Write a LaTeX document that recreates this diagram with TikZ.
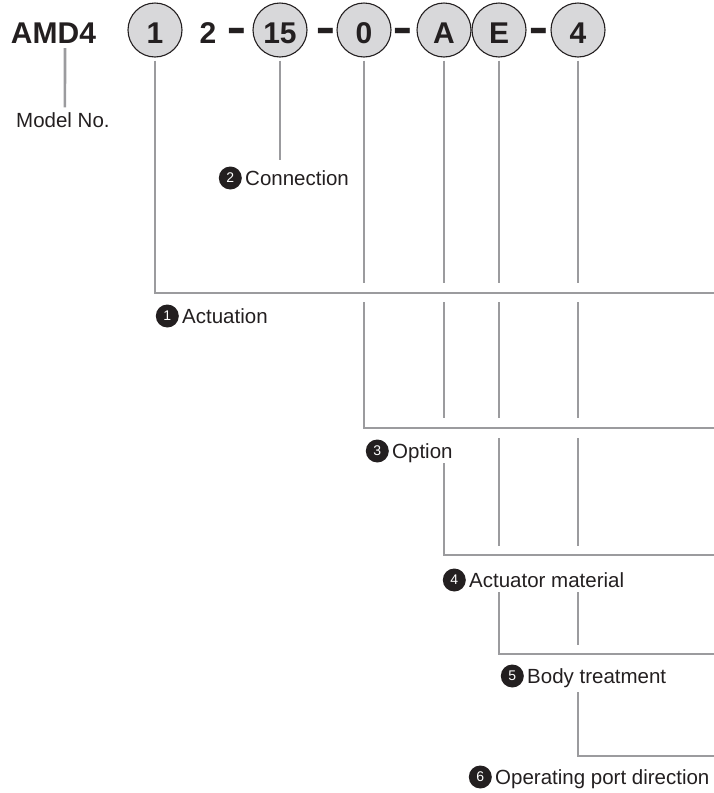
\documentclass[tikz,border=0pt]{standalone}
\usepackage{fontspec}
\setmainfont{Liberation Sans}
\usetikzlibrary{positioning}

\definecolor{leadgray}{RGB}{155,155,158}
\definecolor{keyfill}{RGB}{216,216,218}
\definecolor{inkblack}{RGB}{35,31,32}

% thick bar for the code separators
\newcommand{\codedash}{\raisebox{-2.8pt}{\scalebox{1.0}[1.8]{–}}}

\begin{document}
\begin{tikzpicture}[
    x=1pt, y=-1pt,
    code/.style={
        anchor=base,
        inner sep=0pt,
        text=inkblack,
        font=\fontsize{30}{30}\selectfont\bfseries
    },
    key/.style={
        code,
        circle,
        draw=inkblack,
        line width=1.1pt,
        fill=keyfill,
        minimum size=54pt,
        text height=26pt,
        text depth=0pt
    },
    lead/.style={draw=leadgray, line width=2.6pt},
    lbl/.style={
        anchor=west,
        inner sep=0pt,
        text=inkblack,
        text height=14.7pt,
        text depth=0pt,
        font=\fontsize{20.5}{24}\selectfont
    },
    badge/.style={
        circle,
        fill=inkblack,
        text=white,
        minimum size=23pt,
        inner sep=0pt,
        font=\fontsize{14}{14}\selectfont
    }
]
\useasboundingbox (0,0) rectangle (714,793);

% Model code
\node[code] (amd) at (53.5,43) {AMD4};
\node[key] (c1) at (155,43) {1};
\node[code] (two) at (208,43) {2};
\node[code] (d1) at (237,43) {\codedash};
\node[key] (c15) at (280,43) {15};
\node[code] (d2) at (326,43) {\codedash};
\node[key] (c0) at (364,43) {0};
\node[code] (d3) at (403,43) {\codedash};
\node[key] (cA) at (444,43) {A};
\node[key] (cE) at (499,43) {E};
\node[code] (d4) at (539,43) {\codedash};
\node[key] (c4) at (578,43) {4};

% Labels
\node[lbl] (model) at (16,120) {Model No.};
\node[lbl] (conn) at (245,178) {Connection};
\node[badge, left=3pt of conn] (conn-n) {2};
\node[lbl] (act) at (182,316) {Actuation};
\node[badge, left=3pt of act] (act-n) {1};
\node[lbl] (opt) at (392,451) {Option};
\node[badge, left=3pt of opt] (opt-n) {3};
\node[lbl] (mat) at (469,580) {Actuator material};
\node[badge, left=3pt of mat] (mat-n) {4};
\node[lbl] (treat) at (527,676) {Body treatment};
\node[badge, left=3pt of treat] (treat-n) {5};
\node[lbl] (port) at (495,777) {Operating port direction};
\node[badge, left=3pt of port] (port-n) {6};

% Model No.
\draw[lead] ([shift={(11.5,5)}]amd.base) -- ([xshift=2pt, yshift=5pt]model.north);

% Connection
\draw[lead] ([yshift=-3pt]c15.south) -- (c15 |- 0,160);

% Actuation
\draw[lead] ([yshift=-3pt]c1.south) |- (714,293);

% Option
\draw[lead] ([yshift=-3pt]c0.south) -- (c0 |- 0,283);
\draw[lead] (c0 |- 0,302) |- (714,428);

% Actuator material
\draw[lead] ([yshift=-3pt]cA.south) -- (cA |- 0,283);
\draw[lead] (cA |- 0,302) -- (cA |- 0,418);
\draw[lead] (cA |- 0,463) |- (714,555);

% Body treatment
\draw[lead] ([yshift=-3pt]cE.south) -- (cE |- 0,283);
\draw[lead] (cE |- 0,302) -- (cE |- 0,418);
\draw[lead] (cE |- 0,438) -- (cE |- 0,546);
\draw[lead] (cE |- 0,592) |- (714,654);

% Operating port direction
\draw[lead] ([yshift=-3pt]c4.south) -- (c4 |- 0,283);
\draw[lead] (c4 |- 0,302) -- (c4 |- 0,418);
\draw[lead] (c4 |- 0,438) -- (c4 |- 0,546);
\draw[lead] (c4 |- 0,592) -- (c4 |- 0,645);
\draw[lead] (c4 |- 0,692) |- (714,756);

\end{tikzpicture}
\end{document}
